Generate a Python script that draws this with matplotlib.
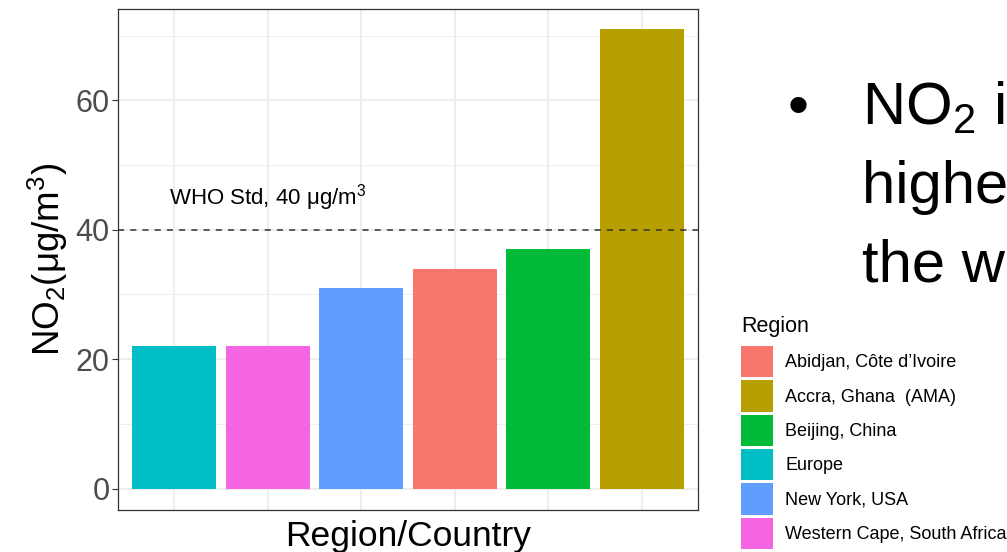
import matplotlib
matplotlib.use("Agg")
import matplotlib.pyplot as plt
from matplotlib.patches import Patch

plt.rcParams['font.family'] = ['Liberation Sans', 'DejaVu Sans']
plt.rcParams['mathtext.fontset'] = 'custom'
plt.rcParams['mathtext.rm'] = 'Liberation Sans'
plt.rcParams['mathtext.it'] = 'Liberation Sans:italic'

# bars in plotting order (sorted by value)
regions = ["Europe", "Western Cape, South Africa", "New York, USA",
           "Abidjan, Côte d’Ivoire", "Beijing, China", "Accra, Ghana  (AMA)"]
no2 = [22, 22, 31, 34, 37, 71]

# legend order (alphabetical, as ggplot does)
legend_order = ["Abidjan, Côte d’Ivoire", "Accra, Ghana  (AMA)", "Beijing, China",
                "Europe", "New York, USA", "Western Cape, South Africa"]
region_colors = {
    "Abidjan, Côte d’Ivoire": "#F8766D",
    "Accra, Ghana  (AMA)": "#B79F00",
    "Beijing, China": "#00BA38",
    "Europe": "#00BFC4",
    "New York, USA": "#619CFF",
    "Western Cape, South Africa": "#F564E3",
}

who_std = 40
bullet_lines = ["NO$_2$ is", "higher in", "the world"]

fig = plt.figure(figsize=(10.07, 5.52), dpi=100)
ax = fig.add_axes([118 / 1007, 1 - 510 / 552, 580 / 1007, 501 / 552])

xpos = list(range(1, len(regions) + 1))
ax.bar(xpos, no2, width=0.9, color=[region_colors[r] for r in regions], zorder=2)

ax.axhline(who_std, color='#333333', lw=1.1, ls=(0, (4, 4)), zorder=3)
ax.text(2, 45, r"WHO Std, 40 μg/m$^3$", ha='center', va='center', fontsize=16, zorder=4)

ax.set_xlim(0.4, 6.6)
ax.set_ylim(-3.3, 74.1)
ax.set_xticks(xpos)
ax.set_xticklabels([])
ax.tick_params(axis='x', length=0)
ax.set_yticks([0, 20, 40, 60])
ax.set_yticks([10, 30, 50, 70], minor=True)
ax.tick_params(axis='y', which='major', length=4, width=0.8, color='#333333',
               labelsize=22, labelcolor='#4D4D4D', pad=2)
ax.tick_params(axis='y', which='minor', length=0)
ax.grid(True, which='major', color='#EBEBEB', lw=1.2, zorder=0)
ax.grid(True, which='minor', axis='y', color='#EBEBEB', lw=0.6, zorder=0)
ax.set_axisbelow(True)
for s in ax.spines.values():
    s.set_color('#333333')
    s.set_linewidth(0.9)

ax.set_ylabel(r"NO$_2$(μg/m$^3$)", fontsize=26.5, labelpad=4)
ax.set_xlabel("Region/Country", fontsize=25.5, labelpad=4)

# slide bullet text
fig.text(798 / 1007, 1 - 125 / 552, "•", fontsize=43, ha='center', va='baseline')
for i, line in enumerate(bullet_lines):
    fig.text(862 / 1007, 1 - (125 + i * 78) / 552, line, fontsize=43, va='baseline')

# legend (title drawn separately so the gap to the keys matches)
fig.text(741 / 1007, 1 - 332 / 552, "Region", fontsize=15.5, va='baseline')
handles = [Patch(facecolor=region_colors[r], edgecolor='none') for r in legend_order]
fig.legend(handles, legend_order, loc='upper left', bbox_to_anchor=(741 / 1007, 1 - 346 / 552),
           frameon=False, fontsize=13, borderpad=0, borderaxespad=0,
           handlelength=1.75, handleheight=2.29, handletextpad=0.7, labelspacing=0.17)

fig.savefig("out.png", dpi=100)
